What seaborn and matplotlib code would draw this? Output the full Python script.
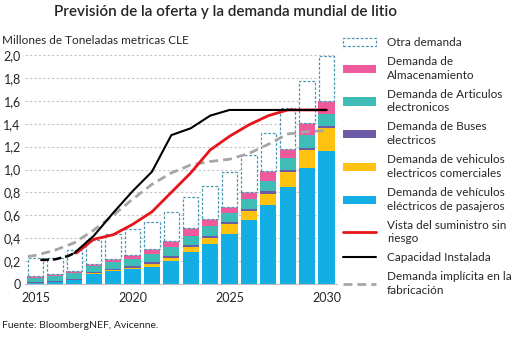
import matplotlib
matplotlib.use("Agg")
import matplotlib.pyplot as plt
import seaborn as sns
import numpy as np
from matplotlib.patches import Patch
from matplotlib.lines import Line2D

# ---- data (millones de toneladas métricas CLE) ----
years = list(range(2015, 2031))
year_labels = [str(y) for y in years]

pasajeros = [0.010, 0.015, 0.035, 0.090, 0.114, 0.128, 0.150, 0.200,
             0.280, 0.345, 0.440, 0.555, 0.690, 0.850, 1.015, 1.165]
comerciales = [0.000, 0.000, 0.003, 0.005, 0.008, 0.015, 0.025, 0.030,
               0.045, 0.060, 0.080, 0.085, 0.100, 0.130, 0.155, 0.200]
buses = [0.010, 0.010, 0.010, 0.013, 0.012, 0.014, 0.015, 0.015,
         0.015, 0.015, 0.020, 0.015, 0.020, 0.020, 0.015, 0.015]
electronicos = [0.035, 0.045, 0.050, 0.050, 0.056, 0.060, 0.070, 0.080,
                0.080, 0.090, 0.080, 0.085, 0.090, 0.100, 0.115, 0.105]
almacenamiento = [0.015, 0.017, 0.017, 0.018, 0.028, 0.035, 0.045, 0.050,
                  0.065, 0.060, 0.055, 0.065, 0.085, 0.080, 0.110, 0.115]
demanda_total = [0.23, 0.23, 0.30, 0.38, 0.44, 0.48, 0.54, 0.63,
                 0.76, 0.86, 0.98, 1.13, 1.32, 1.54, 1.77, 1.99]

# Capacidad instalada: historical (dashed) and projected (solid)
cap_hist_years = [2015.25, 2016.0, 2016.7, 2017.0]
cap_hist_vals = [0.21, 0.215, 0.245, 0.27]
cap_years = [2017, 2018, 2019, 2020, 2021, 2022, 2023, 2024, 2025,
             2026, 2027, 2028, 2029, 2030]
cap_vals = [0.27, 0.42, 0.62, 0.81, 0.98, 1.30, 1.36, 1.47, 1.52,
            1.52, 1.52, 1.52, 1.52, 1.52]

# Vista del suministro sin riesgo
sup_years = [2017.1, 2018, 2019, 2020, 2021, 2022, 2023, 2024, 2025,
             2026, 2027, 2028, 2029, 2030]
sup_vals = [0.27, 0.39, 0.43, 0.52, 0.63, 0.80, 0.97, 1.17, 1.29,
            1.39, 1.47, 1.52, 1.52, 1.52]

# Demanda implícita en la fabricación
imp_years = [2014.6, 2015, 2016, 2017, 2018, 2019, 2020, 2021, 2022,
             2023, 2024, 2025, 2026, 2027, 2028, 2029, 2030]
imp_vals = [0.24, 0.25, 0.295, 0.36, 0.47, 0.60, 0.74, 0.87, 0.97,
            1.04, 1.07, 1.09, 1.14, 1.22, 1.31, 1.33, 1.34]

# ---- colours ----
C_PAS = "#12AEE4"
C_COM = "#FFC20E"
C_BUS = "#6E5BA8"
C_ELE = "#3DBDB6"
C_ALM = "#EE5A9C"
C_OTRA = "#4E98B6"
C_RED = "#E8141B"
C_GREY = "#A6A6A6"

sns.set_theme(style="white")
plt.rcParams["font.family"] = ["Lato", "DejaVu Sans"]

fig = plt.figure(figsize=(5.12, 3.44), dpi=100)
ax = fig.add_axes([25 / 512, 1 - 284 / 344, (337 - 25) / 512, (284 - 55) / 344])

# ---- stacked bars ----
bottom = np.zeros(len(years))
layers = [
    (pasajeros, C_PAS),
    (comerciales, C_COM),
    (buses, C_BUS),
    (electronicos, C_ELE),
    (almacenamiento, C_ALM),
]
for vals, col in layers:
    sns.barplot(x=year_labels, y=vals, color=col, saturation=1, width=0.84,
                bottom=bottom.copy(), linewidth=0, ax=ax)
    bottom += np.array(vals)

otra = np.array(demanda_total) - bottom
sns.barplot(x=year_labels, y=otra, color="white", saturation=1, width=0.80,
            bottom=bottom.copy(), edgecolor=C_OTRA, linewidth=0.9,
            linestyle=(0, (2.2, 1.4)), ax=ax)

# ---- lines ----
pos = lambda ys: [y - 2015 for y in ys]
sns.lineplot(x=pos(imp_years), y=imp_vals, color=C_GREY, lw=2.0,
             linestyle=(0, (3.2, 1.8)), sort=False, estimator=None, ax=ax)
sns.lineplot(x=pos(sup_years), y=sup_vals, color=C_RED, lw=2.0,
             sort=False, estimator=None, ax=ax)
sns.lineplot(x=pos(cap_hist_years), y=cap_hist_vals, color="black", lw=1.8,
             linestyle=(0, (3.5, 1.5)), sort=False, estimator=None, ax=ax)
sns.lineplot(x=pos(cap_years), y=cap_vals, color="black", lw=1.5,
             sort=False, estimator=None, ax=ax)

# ---- axes styling ----
ax.set_xlim(-0.54, 15.54)
ax.set_ylim(0, 2.0)
ax.set_xlabel("")
ax.set_ylabel("")
yt = np.round(np.arange(0, 2.01, 0.2), 1)
ax.set_yticks(yt)
ax.set_yticklabels(["0" if v == 0 else f"{v:.1f}".replace(".", ",") for v in yt])
ax.set_xticks([0, 5, 10, 15])
ax.set_xticklabels(["2015", "2020", "2025", "2030"])
ax.set_xticks(np.arange(-0.5, 16, 1), minor=True)
ax.tick_params(axis="x", which="major", length=0, pad=6, labelsize=9)
ax.tick_params(axis="x", which="minor", length=3, color="#BFBFBF", width=0.8)
ax.tick_params(axis="y", length=0, pad=3, labelsize=9)
ax.yaxis.grid(True, color="#C4C4C4", linestyle=(0, (2, 2)), lw=0.8)
ax.set_axisbelow(True)
for s in ["top", "right", "left"]:
    ax.spines[s].set_visible(False)
ax.spines["bottom"].set_color("#BFBFBF")
ax.spines["bottom"].set_linewidth(0.8)
ax.legend_ = None

# ---- texts ----
fig.text(225 / 512, 1 - 12 / 344, "Previsión de la oferta y la demanda mundial de litio",
         ha="center", va="center", fontsize=11, fontweight="semibold")
fig.text(2 / 512, 1 - 41 / 344, "Millones de Toneladas metricas CLE",
         ha="left", va="center", fontsize=8.5)
fig.text(2 / 512, 1 - 326 / 344, "Fuente: BloombergNEF, Avicenne.",
         ha="left", va="center", fontsize=7.5)

# ---- legend ----
handles = [
    Patch(facecolor="white", edgecolor=C_OTRA, linewidth=0.9, linestyle=(0, (2.2, 1.4))),
    Patch(facecolor=C_ALM, edgecolor="none"),
    Patch(facecolor=C_ELE, edgecolor="none"),
    Patch(facecolor=C_BUS, edgecolor="none"),
    Patch(facecolor=C_COM, edgecolor="none"),
    Patch(facecolor=C_PAS, edgecolor="none"),
    Line2D([], [], color=C_RED, lw=2.0),
    Line2D([], [], color="black", lw=1.5),
    Line2D([], [], color=C_GREY, lw=2.0, linestyle=(0, (3.2, 1.8))),
]
labels = [
    "Otra demanda",
    "Demanda de\nAlmacenamiento",
    "Demanda de Articulos\nelectronicos",
    "Demanda de Buses\nelectricos",
    "Demanda de vehiculos\nelectricos comerciales",
    "Demanda de vehículos\neléctricos de pasajeros",
    "Vista del suministro sin\nriesgo",
    "Capacidad Instalada",
    "Demanda implícita en la\nfabricación",
]
leg = fig.legend(handles, labels, loc="upper left",
                 bbox_to_anchor=(343 / 512, 1 - 37 / 344),
                 frameon=False, fontsize=8.5, handlelength=2.8,
                 handletextpad=0.9, labelspacing=0.68,
                 borderaxespad=0, borderpad=0)
for t in leg.get_texts():
    t.set_linespacing(1.3)

fig.savefig("out.png", dpi=100)
